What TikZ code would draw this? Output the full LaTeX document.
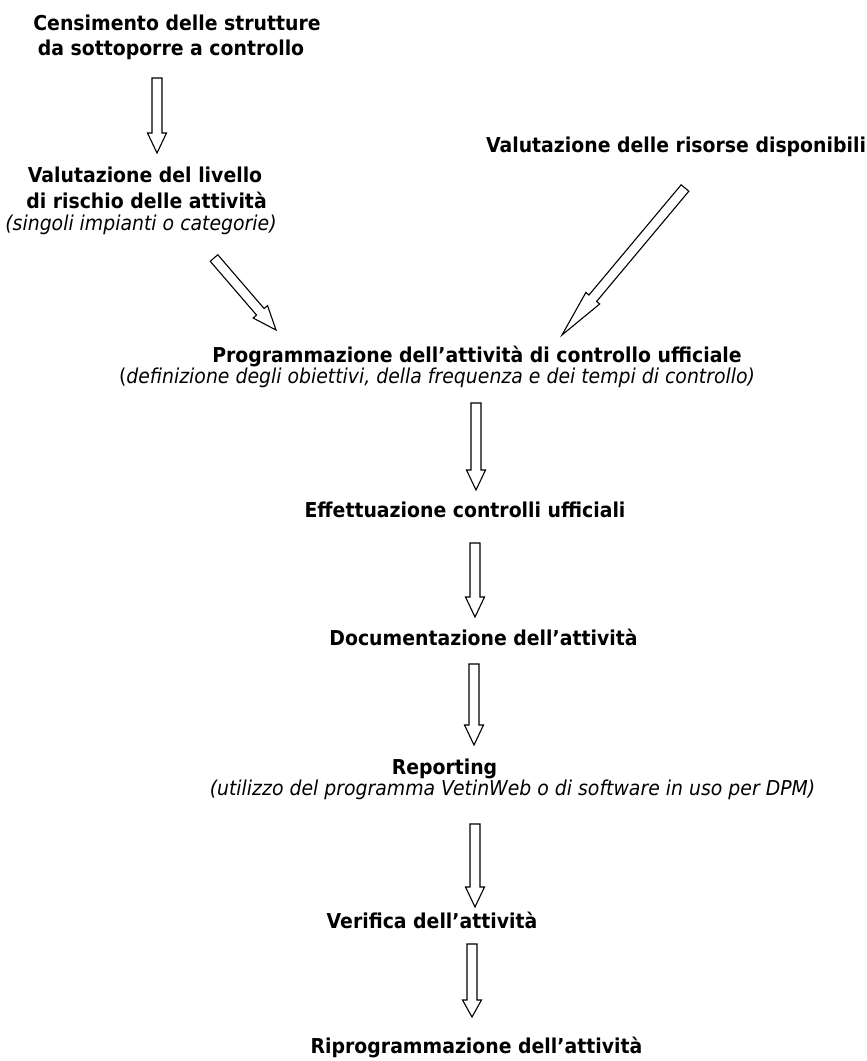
\documentclass[tikz,border=0pt]{standalone}
\usepackage{fontspec}
\setmainfont{DejaVu Sans}[FakeStretch=0.92]
\usetikzlibrary{calc}
\tikzset{
  txt/.style={anchor=base,inner sep=0pt,font=\fontsize{20.5}{24}\selectfont\bfseries},
  note/.style={anchor=base,inner sep=0pt,font=\fontsize{20.5}{24}\selectfont},
  arrowline/.style={draw=black,fill=white,line width=1.1pt,line join=miter}
}
\newcommand{\blockarrow}[4]{%
  \coordinate (hb) at ($(#2)!#3!(#1)$);
  \draw[arrowline] ($(#1)!5pt!90:(#2)$) -- ($(hb)!5pt!90:(#2)$) -- ($(hb)!#4!90:(#2)$) -- (#2)
    -- ($(hb)!#4!-90:(#2)$) -- ($(hb)!5pt!-90:(#2)$) -- ($(#1)!5pt!-90:(#2)$) -- cycle;}
\begin{document}
\begin{tikzpicture}[x=1pt,y=-1pt]
\useasboundingbox (0,0) rectangle (867,1061);
\node[txt] (censA) at (177,30) {Censimento delle strutture};
\node[txt] (censB) at (171,55) {da sottoporre a controllo};
\node[txt] (livA) at (145,182) {Valutazione del livello};
\node[txt] (livB) at (146.5,208) {di rischio delle attività};
\node[note] (livC) at (141,230) {\itshape (singoli impianti o categorie)};
\node[txt] (ris) at (676,152) {Valutazione delle risorse disponibili};
\node[txt] (progA) at (477,362) {Programmazione dell’attività di controllo ufficiale};
\node[note] (progB) at (437,383) {(\textit{definizione degli obiettivi, della frequenza e dei tempi di controllo)}};
\node[txt] (eff) at (465,517) {Effettuazione controlli ufficiali};
\node[txt] (doc) at (483.5,645) {Documentazione dell’attività};
\node[txt] (repA) at (444.5,774) {Reporting};
\node[note] (repB) at (512.5,795) {\itshape (utilizzo del programma VetinWeb o di software in uso per DPM)};
\node[txt] (ver) at (432,928) {Verifica dell’attività};
\node[txt] (rip) at (476.5,1053) {Riprogrammazione dell’attività};
\coordinate (a1s) at (157,78);
\coordinate (a1e) at (157,153);
\coordinate (a2s) at (214,258);
\coordinate (a2e) at (276,330);
\coordinate (a3s) at (685,188);
\coordinate (a3e) at (562,335);
\coordinate (a4s) at (476,403);
\coordinate (a4e) at (476,490);
\coordinate (a5s) at (475,543);
\coordinate (a5e) at (475,617);
\coordinate (a6s) at (474,664);
\coordinate (a6e) at (474,745);
\coordinate (a7s) at (475,824);
\coordinate (a7e) at (475,907);
\coordinate (a8s) at (472,944);
\coordinate (a8e) at (472,1017);
\blockarrow{a1s}{a1e}{20pt}{9.5pt}
\blockarrow{a2s}{a2e}{24pt}{9.5pt}
\blockarrow{a3s}{a3e}{48pt}{9pt}
\blockarrow{a4s}{a4e}{20pt}{9.5pt}
\blockarrow{a5s}{a5e}{20pt}{9.5pt}
\blockarrow{a6s}{a6e}{20pt}{9.5pt}
\blockarrow{a7s}{a7e}{20pt}{9.5pt}
\blockarrow{a8s}{a8e}{17pt}{9.5pt}
\end{tikzpicture}
\end{document}
